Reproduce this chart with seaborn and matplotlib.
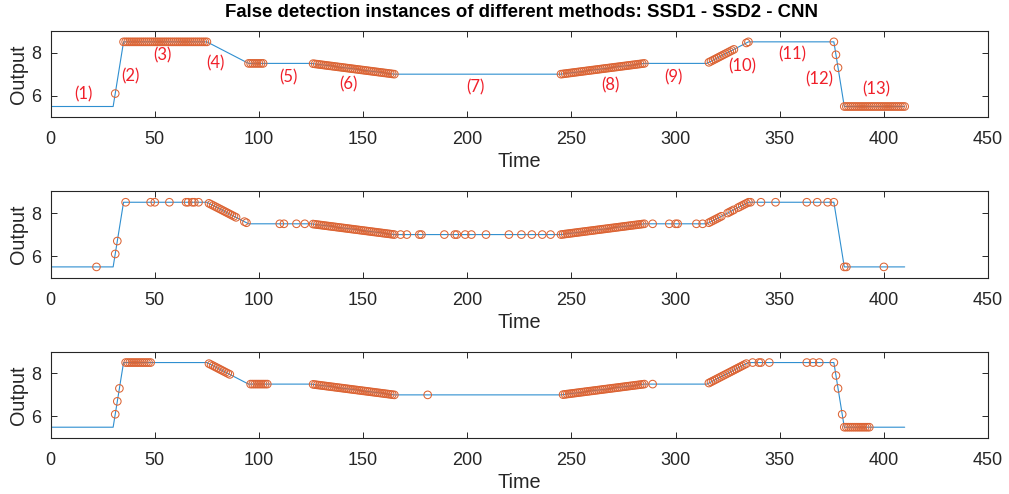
import numpy as np
import pandas as pd
import matplotlib
matplotlib.use("Agg")
import matplotlib.pyplot as plt
import seaborn as sns

# Reference signal: knot times and output levels (piecewise linear, 1 s sampling)
knot_time = [0, 30, 35, 75, 95, 125, 165, 245, 285, 315, 335, 376, 381, 410]
knot_output = [5.5, 5.5, 8.5, 8.5, 7.5, 7.5, 7.0, 7.0, 7.5, 7.5, 8.5, 8.5, 5.5, 5.5]

# False detection instants per method: single times and inclusive runs of consecutive seconds
ssd1_single = [31, 334, 335, 376, 377, 378]
ssd1_runs = [(35, 75), (95, 102), (126, 165), (245, 285), (316, 328), (381, 410)]

ssd2_single = [22, 31, 32, 36, 48, 50, 57, 65, 66, 68, 69, 71, 93, 94,
               110, 112, 118, 122, 168, 171, 177, 178, 189, 194, 195, 199,
               202, 209, 220, 226, 231, 236, 240, 289, 297, 300, 301, 310,
               313, 341, 348, 363, 368, 373, 376, 381, 382, 400]
ssd2_runs = [(76, 89), (126, 165), (245, 285), (316, 322), (325, 328), (330, 336)]

cnn_single = [31, 32, 33, 181, 289, 337, 340, 341, 345, 363, 366, 369,
              376, 377, 378, 380]
cnn_runs = [(36, 48), (76, 86), (96, 104), (126, 165), (246, 285),
            (316, 334), (381, 393)]

# Segment annotations on the first panel
seg_labels = ["(1)", "(2)", "(3)", "(4)", "(5)", "(6)", "(7)",
              "(8)", "(9)", "(10)", "(11)", "(12)", "(13)"]
seg_label_x = [15.6, 38.1, 53.7, 78.9, 114.1, 142.9, 203.7,
               268.5, 298.9, 332.2, 356.2, 369.0, 396.2]
seg_label_y = [6.05, 6.91, 7.87, 7.52, 6.84, 6.53, 6.37,
               6.48, 6.87, 7.38, 7.92, 6.74, 6.29]

x_ticks = [0, 50, 100, 150, 200, 250, 300, 350, 400, 450]
y_ticks = [6, 8]

time = np.arange(knot_time[0], knot_time[-1] + 1)
signal = pd.DataFrame({"Time": time,
                       "Output": np.interp(time, knot_time, knot_output)})


def detections(single, runs):
    t = list(single)
    for a, b in runs:
        t.extend(range(a, b + 1))
    t = np.array(sorted(set(t)))
    return signal.set_index("Time").loc[t].reset_index()


methods = [detections(ssd1_single, ssd1_runs),
           detections(ssd2_single, ssd2_runs),
           detections(cnn_single, cnn_runs)]

sns.set_style("ticks")
plt.rcParams["font.family"] = ["Liberation Sans", "DejaVu Sans"]
ink = "#262626"
plt.rcParams.update({
    "axes.edgecolor": ink, "xtick.color": ink, "ytick.color": ink,
    "axes.labelcolor": ink, "text.color": ink,
    "xtick.direction": "in", "ytick.direction": "in",
    "xtick.top": True, "ytick.right": True,
    "xtick.major.size": 4, "ytick.major.size": 4,
    "xtick.major.width": 0.7, "ytick.major.width": 0.7,
    "axes.linewidth": 0.8,
})

fig = plt.figure(figsize=(10.09, 4.94), dpi=100)
left, width = 0.0502, 0.929
bottoms = [0.7626, 0.4379, 0.1134]
height = 0.1745

for i, det in enumerate(methods):
    ax = fig.add_axes([left, bottoms[i], width, height])
    sns.lineplot(data=signal, x="Time", y="Output", ax=ax,
                 color="#2F8FD0", linewidth=0.8, zorder=2)
    ax.scatter(det["Time"], det["Output"], s=30, marker="o",
               facecolors="none", edgecolors="#DC6434",
               linewidths=0.75, zorder=3)
    ax.set_xlim(0, 450)
    ax.set_ylim(5, 9)
    ax.set_xticks(x_ticks)
    ax.set_yticks(y_ticks)
    ax.tick_params(labelsize=13)
    ax.tick_params(axis="x", pad=10)
    ax.tick_params(axis="y", pad=7)
    ax.set_xlabel("Time", fontsize=14.3, labelpad=3)
    ax.set_ylabel("Output", fontsize=14.3, labelpad=2)
    for s in ax.spines.values():
        s.set_visible(True)
    if i == 0:
        for lab, lx, ly in zip(seg_labels, seg_label_x, seg_label_y):
            ax.text(lx, ly, lab, color="#F0202A", fontsize=12,
                    ha="center", va="center", family=["Lato", "DejaVu Sans"])

fig.text(0.517, 1 - 12.5 / 494,
         "False detection instances of different methods: SSD1 - SSD2 - CNN",
         ha="center", va="center", fontsize=13.4, fontweight="bold",
         color="black")

fig.savefig("out.png", dpi=100)
